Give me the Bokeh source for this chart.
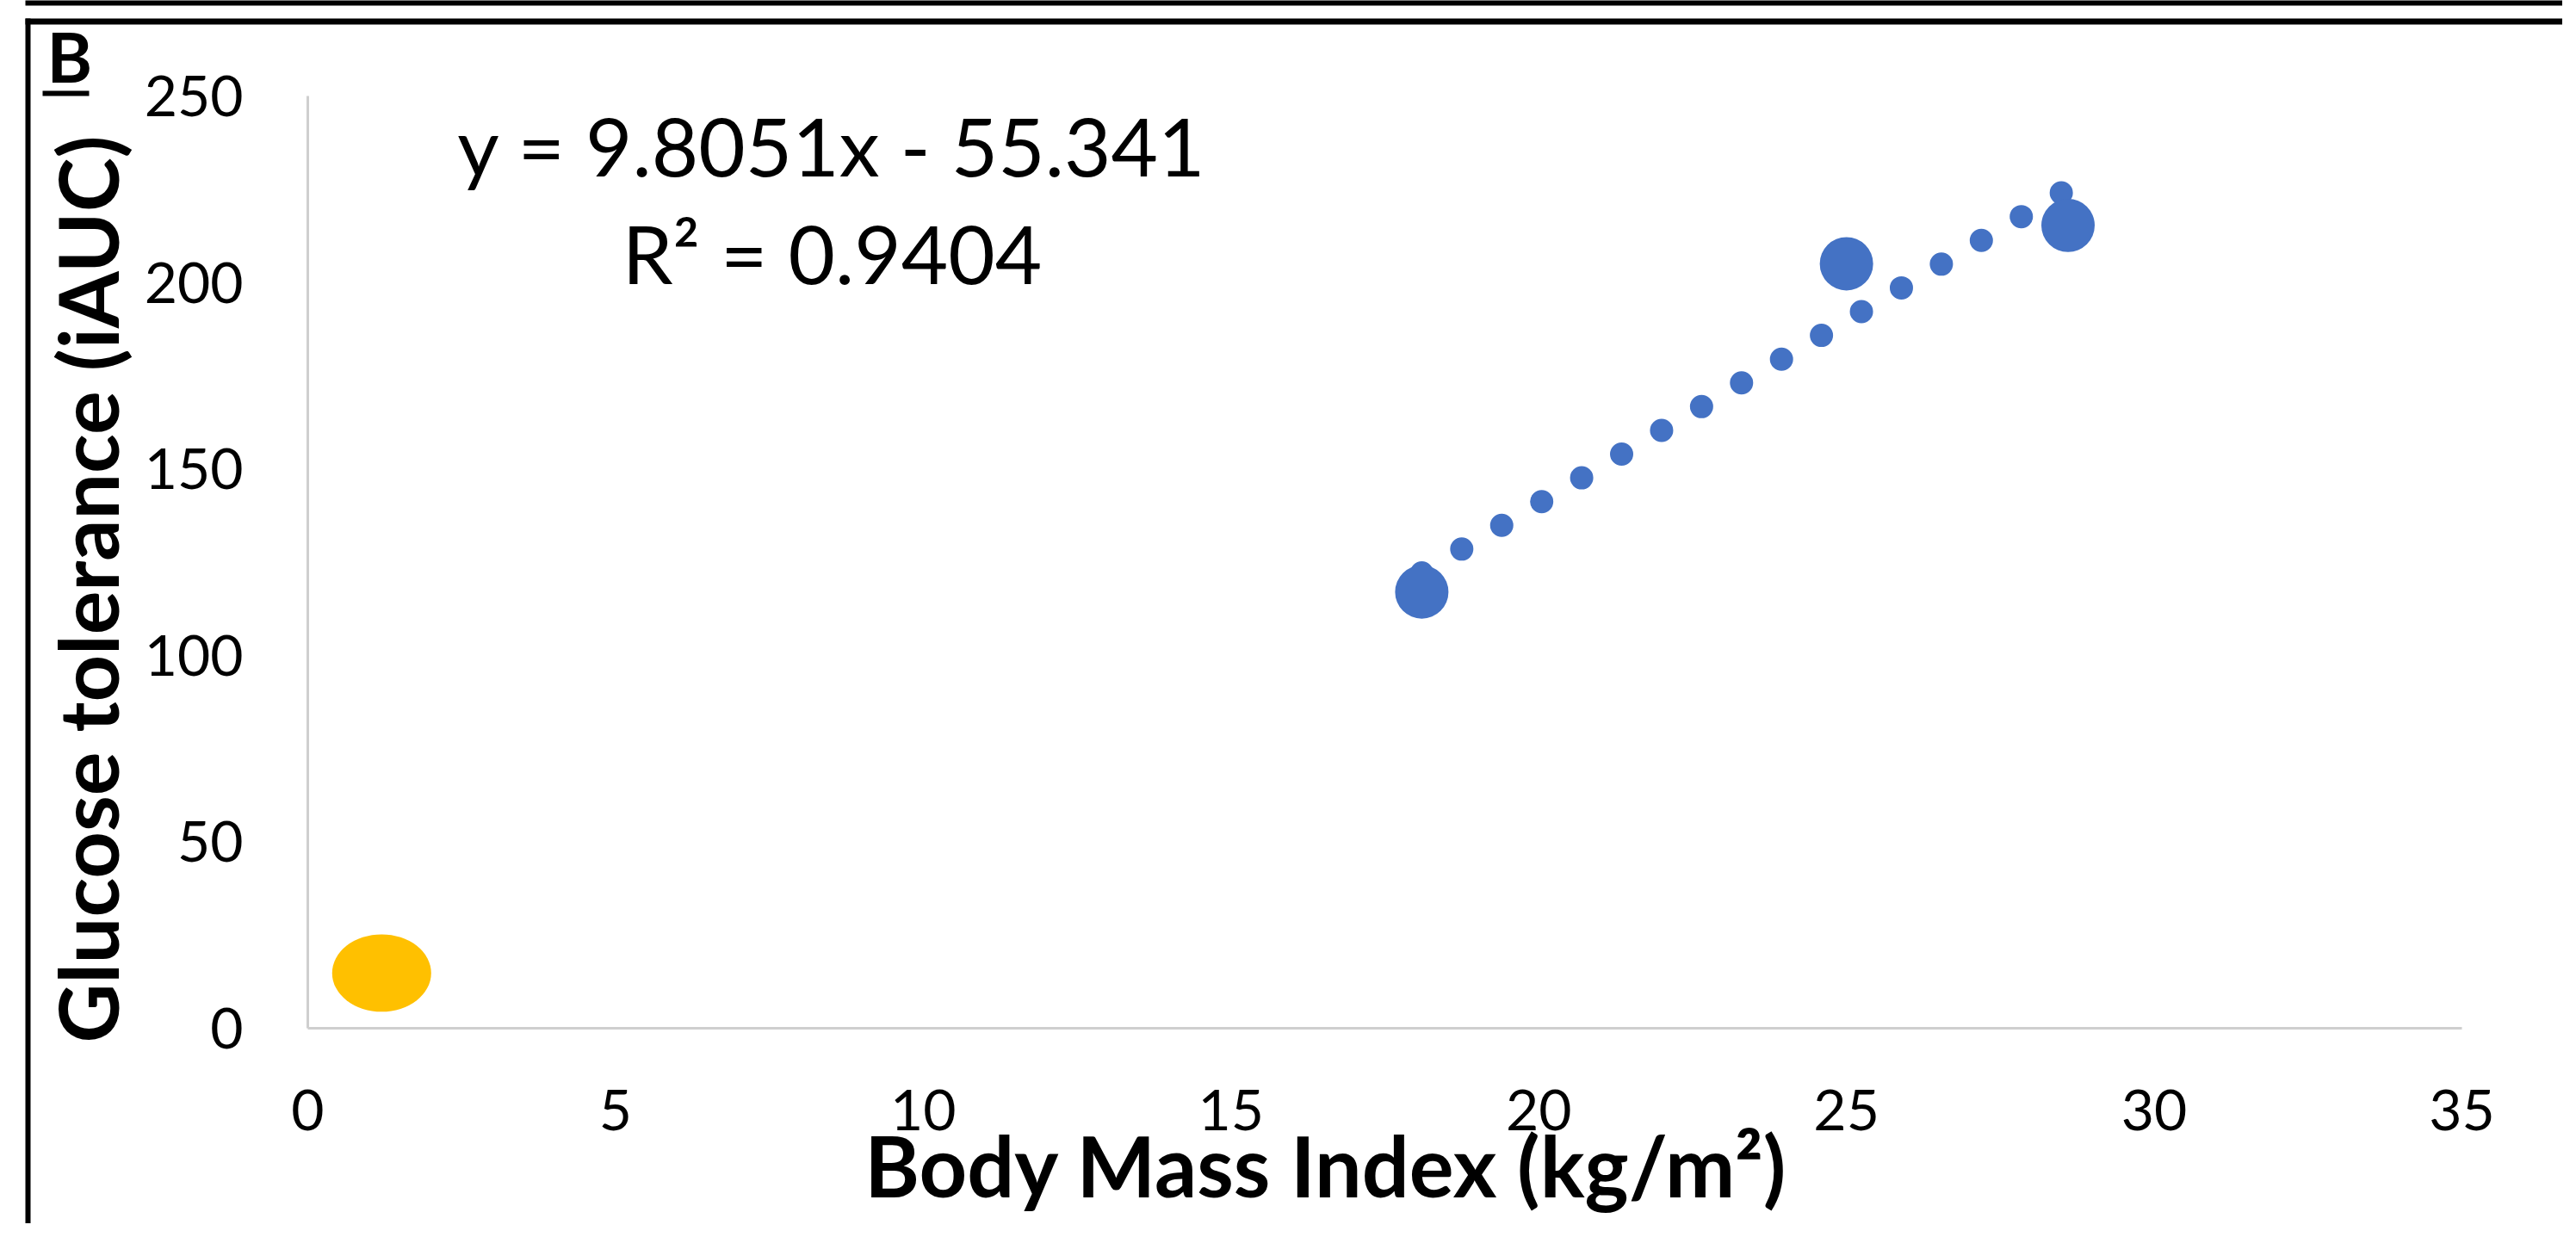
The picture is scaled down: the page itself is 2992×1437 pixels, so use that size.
from bokeh.plotting import figure
from bokeh.models import Range1d, FixedTicker, Label, LinearAxis
from bokeh.embed import file_html
from bokeh.resources import INLINE

# ---- data ----
blue_bmi = [18.1, 25.0, 28.6]
blue_iauc = [117.0, 205.0, 215.3]
yellow_bmi = [1.2]
yellow_iauc = [14.8]
trend_slope = 9.8051
trend_intercept = -55.341
r_squared = 0.9404
x_ticks = [0, 5, 10, 15, 20, 25, 30, 35]
y_ticks = [0, 50, 100, 150, 200, 250]
x_title = "Body Mass Index (kg/m²)"
y_title = "Glucose tolerance (iAUC)"
panel_letter = "B"

BLUE = "#4472C4"
YELLOW = "#FFC000"
FONT = "Lato"

# ---- canvas geometry (pixels) ----
W, H = 2976, 1421
AX_X0, AX_X1 = 357, 2859      # canvas x of BMI 0 and 35
AX_Y0, AX_Y1 = 1194, 111      # canvas y of iAUC 0 and 250
PX = (AX_X1 - AX_X0) / 35.0
PY = (AX_Y0 - AX_Y1) / 250.0

def dx(c):
    return (c - AX_X0) / PX

def dy(c):
    return (AX_Y0 - c) / PY

p = figure(width=W, height=H, output_backend="svg", toolbar_location=None,
           title=None, min_border=0,
           x_range=Range1d(dx(0), dx(W)), y_range=Range1d(dy(H), dy(0)))
p.outline_line_color = None
p.grid.visible = False
p.background_fill_color = "white"
p.border_fill_color = "white"

for ax, ticks, bnds in ((p.xaxis[0], x_ticks, (0, 35)), (p.yaxis[0], y_ticks, (0, 250))):
    ax.ticker = FixedTicker(ticks=ticks)
    ax.fixed_location = 0
    ax.bounds = bnds
    ax.major_tick_in = 0
    ax.major_tick_out = 0
    ax.minor_tick_in = 0
    ax.minor_tick_out = 0
    ax.axis_line_color = "#cfcfcf"
    ax.axis_line_width = 3
    ax.major_label_text_font = FONT
    ax.major_label_text_font_size = "66px"
    ax.major_label_text_color = "black"
p.yaxis.major_label_standoff = 75
p.xaxis.major_label_standoff = 71

# axis titles carried by line-less helper axes, centred where the reference puts them
def title_axis(text, bounds, standoff, size):
    return LinearAxis(axis_label=text, fixed_location=0, bounds=bounds,
                      ticker=FixedTicker(ticks=[]), axis_line_color=None,
                      major_tick_line_color=None, minor_tick_line_color=None,
                      major_label_standoff=0, axis_label_standoff=standoff,
                      axis_label_text_font=FONT, axis_label_text_font_style="bold",
                      axis_label_text_font_size=size, axis_label_text_color="black")

p.add_layout(title_axis(x_title, (0, 2 * dx(1540)), 100, "97px"), "below")
p.add_layout(title_axis(y_title, (0, 2 * dy(684)), 200, "95px"), "left")

# trendline (linear fit shown in the chart), drawn over the blue series range
tx = [min(blue_bmi), max(blue_bmi)]
ty = [trend_slope * v + trend_intercept for v in tx]
p.line(tx, ty, line_color=BLUE, line_width=27, line_cap="round", line_dash="0 54")

p.scatter(blue_bmi, blue_iauc, marker="circle", size=62,
          fill_color=BLUE, line_color=None)
p.ellipse(x=yellow_bmi, y=yellow_iauc, width=115, height=90,
          width_units="screen", height_units="screen",
          fill_color=YELLOW, line_color=None)

# equation text
p.add_layout(Label(x=dx(966), y=dy(168), text=f"y = {trend_slope}x - {abs(trend_intercept)}",
                   text_align="center", text_baseline="alphabetic",
                   text_font=FONT, text_font_size="94px", text_color="black"))
p.add_layout(Label(x=dx(966), y=dy(293), text=f"R² = {r_squared}",
                   text_align="center", text_baseline="alphabetic",
                   text_font=FONT, text_font_size="94px", text_color="black"))

# ---- panel decorations (black frame strokes of the figure panel) ----
bars_l = [dx(29), dx(29), dx(29), dx(49)]
bars_r = [dx(W + 20), dx(W + 20), dx(35), dx(103)]
bars_t = [dy(-20), dy(21), dy(21), dy(105)]
bars_b = [dy(6), dy(28), dy(H + 20), dy(111)]
p.quad(left=bars_l, right=bars_r, top=bars_t, bottom=bars_b,
       fill_color="black", line_color=None)

p.add_layout(Label(x=dx(54), y=dy(64), text=panel_letter, text_align="left",
                   text_baseline="alphabetic", text_font=FONT,
                   text_font_style="bold", text_font_size="80px", text_color="black"))

open("out.html", "w").write(file_html(p, INLINE))
